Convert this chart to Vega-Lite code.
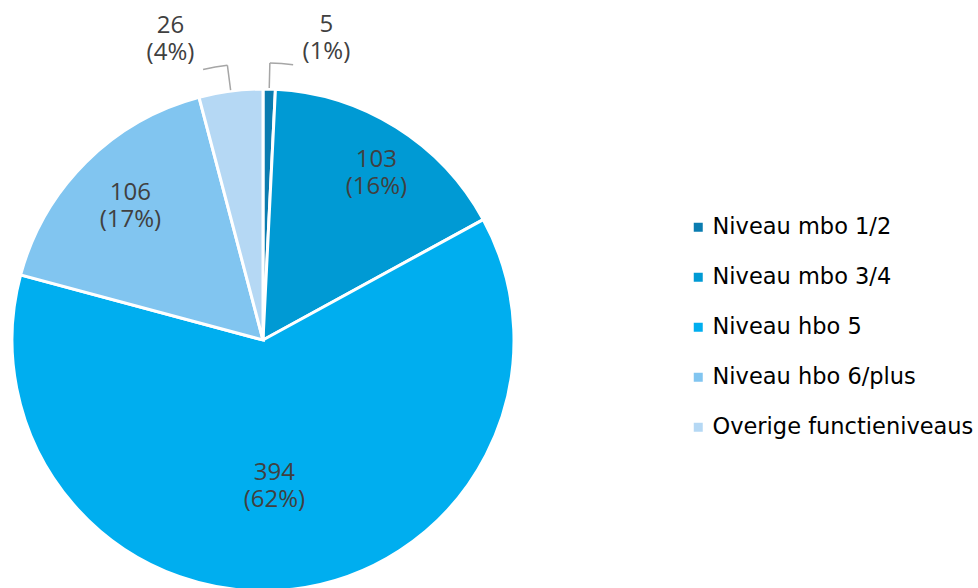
{
  "$schema": "https://vega.github.io/schema/vega-lite/v6.json",
  "width": 526,
  "height": 680,
  "autosize": {"type": "pad"},
  "padding": 0,
  "background": "white",
  "config": {"view": {"stroke": null}},
  "data": {"values": [
    {"i": 1, "niveau": "Niveau mbo 1/2", "aantal": 5},
    {"i": 2, "niveau": "Niveau mbo 3/4", "aantal": 103},
    {"i": 3, "niveau": "Niveau hbo 5", "aantal": 394},
    {"i": 4, "niveau": "Niveau hbo 6/plus", "aantal": 106},
    {"i": 5, "niveau": "Overige functieniveaus", "aantal": 26}
  ]},
  "transform": [
    {"joinaggregate": [{"op": "sum", "field": "aantal", "as": "totaal"}]},
    {"window": [{"op": "sum", "field": "aantal", "as": "eind"}], "sort": [{"field": "i"}], "frame": [null, 0]},
    {"calculate": "datum.eind - datum.aantal / 2", "as": "midden"},
    {"calculate": "[format(datum.aantal, 'd'), '(' + format(datum.aantal / datum.totaal, '.0%') + ')']", "as": "label"}
  ],
  "layer": [
    {
      "mark": {"type": "arc", "outerRadius": 251, "stroke": "white", "strokeWidth": 3},
      "encoding": {
        "theta": {"field": "aantal", "type": "quantitative", "stack": true},
        "order": {"field": "i", "type": "quantitative"},
        "color": {
          "field": "niveau", "type": "nominal",
          "scale": {
            "domain": ["Niveau mbo 1/2", "Niveau mbo 3/4", "Niveau hbo 5", "Niveau hbo 6/plus", "Overige functieniveaus"],
            "range": ["#0a7cb0", "#009ad4", "#00aeef", "#81c5f0", "#b5d8f4"]
          },
          "legend": {
            "title": null, "orient": "none", "legendX": 687, "legendY": 216,
            "symbolType": "square", "symbolSize": 81, "symbolStrokeWidth": 0,
            "labelFont": "DejaVu Sans", "labelFontSize": 22.5, "labelColor": "#000000",
            "labelOffset": 3, "rowPadding": 27, "labelLimit": 400
          }
        }
      }
    },
    {
      "transform": [{"filter": "datum.i == 1 || datum.i == 5"}],
      "mark": {"type": "arc", "innerRadius": 252, "outerRadius": 277, "stroke": "#a6a6a6", "strokeWidth": 1.5, "fill": null, "filled": false},
      "encoding": {
        "theta": {"field": "midden", "type": "quantitative", "stack": null},
        "theta2": {"field": "midden"}
      }
    },
    {
      "transform": [{"filter": "datum.i == 1 || datum.i == 5"}, {"calculate": "datum.i == 1 ? datum.midden + 8.5 : datum.midden - 9", "as": "uiteinde"}],
      "mark": {"type": "arc", "innerRadius": 277, "outerRadius": 277, "stroke": "#a6a6a6", "strokeWidth": 1.5, "fill": null, "filled": false},
      "encoding": {
        "theta": {"field": "midden", "type": "quantitative", "stack": null},
        "theta2": {"field": "uiteinde"}
      }
    },
    {
      "transform": [{"filter": "datum.i == 2"}],
      "mark": {"type": "text", "radius": 204, "dx": 5, "dy": -7, "font": "Open Sans", "fontSize": 24, "lineHeight": 27, "color": "#404040", "baseline": "middle", "align": "center"},
      "encoding": {
        "theta": {"field": "midden", "type": "quantitative", "stack": null},
        "text": {"field": "label"}
      }
    },
    {
      "transform": [{"filter": "datum.i == 3"}],
      "mark": {"type": "text", "radius": 147, "dx": -6, "dy": -13, "font": "Open Sans", "fontSize": 24, "lineHeight": 27, "color": "#404040", "baseline": "middle", "align": "center"},
      "encoding": {
        "theta": {"field": "midden", "type": "quantitative", "stack": null},
        "text": {"field": "label"}
      }
    },
    {
      "transform": [{"filter": "datum.i == 4"}],
      "mark": {"type": "text", "radius": 188, "dy": -14, "font": "Open Sans", "fontSize": 24, "lineHeight": 27, "color": "#404040", "baseline": "middle", "align": "center"},
      "encoding": {
        "theta": {"field": "midden", "type": "quantitative", "stack": null},
        "text": {"field": "label"}
      }
    },
    {
      "transform": [{"filter": "datum.i == 1"}],
      "mark": {"type": "text", "radius": 300, "dx": 56, "dy": -15, "font": "Open Sans", "fontSize": 24, "lineHeight": 27, "color": "#404040", "baseline": "middle", "align": "center"},
      "encoding": {
        "theta": {"field": "midden", "type": "quantitative", "stack": null},
        "text": {"field": "label"}
      }
    },
    {
      "transform": [{"filter": "datum.i == 5"}],
      "mark": {"type": "text", "radius": 300, "dx": -54, "dy": -16, "font": "Open Sans", "fontSize": 24, "lineHeight": 27, "color": "#404040", "baseline": "middle", "align": "center"},
      "encoding": {
        "theta": {"field": "midden", "type": "quantitative", "stack": null},
        "text": {"field": "label"}
      }
    }
  ]
}
